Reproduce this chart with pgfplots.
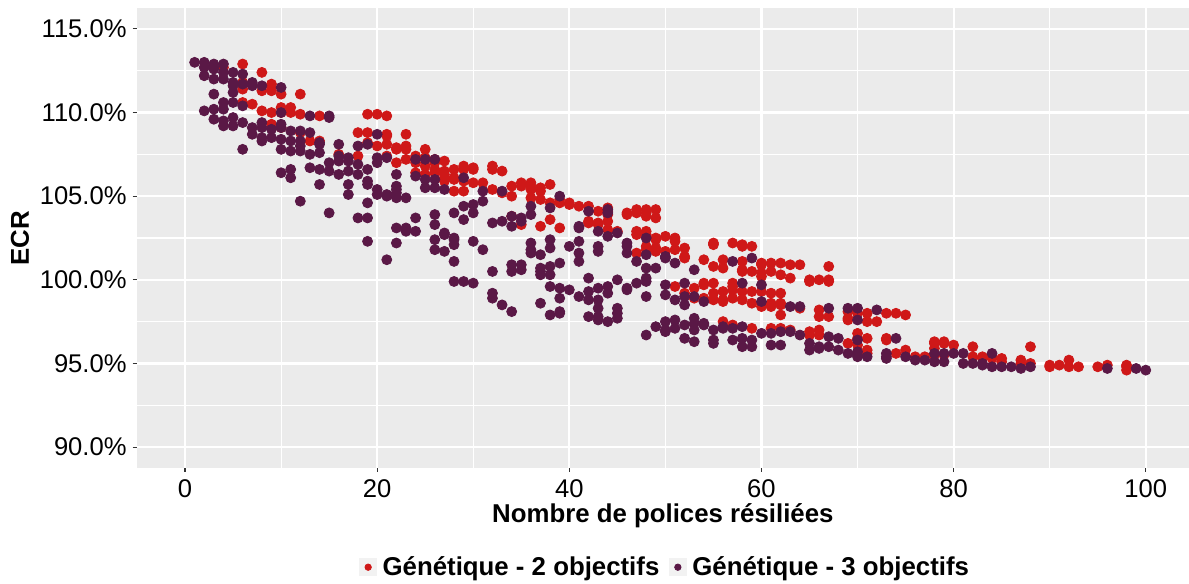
\documentclass[border=0pt]{standalone}
\usepackage{fontspec}
\setmainfont{Liberation Sans}
\usepackage{pgfplots}
\pgfplotsset{compat=1.18}
\definecolor{ggred}{RGB}{207,24,24}
\definecolor{ggpurple}{RGB}{90,24,70}
\definecolor{ggbg}{RGB}{235,235,235}
\definecolor{ggkey}{RGB}{242,242,242}
\definecolor{ggtick}{RGB}{51,51,51}
\begin{document}
\begin{tikzpicture}
\useasboundingbox (-68.35pt,-57.65pt) rectangle (526.15pt,234pt);
\begin{axis}[
  scale only axis, width=526.15pt, height=230pt,
  xmin=-5.03, xmax=104.5, ymin=88.75, ymax=116.25,
  xtick={0,20,...,100}, ytick={90,95,...,115},
  minor xtick={10,30,50,70,90}, minor ytick={92.5,97.5,102.5,107.5,112.5},
  grid=both,
  major grid style={white, line width=1.1pt},
  minor grid style={white, line width=0.55pt},
  axis background/.style={fill=ggbg},
  axis x line*=bottom, axis y line*=left,
  axis line style={draw=none},
  tick align=outside, major tick length=2pt, minor tick length=0pt,
  tick style={color=ggtick, line width=0.55pt},
  /pgf/number format/assume math mode=true,
  ticklabel style={font=\fontsize{12.8}{15}\selectfont, text=black},
  xticklabel style={anchor=base, inner sep=0pt, yshift=-12.7pt},
  yticklabel style={anchor=east, inner sep=0pt, xshift=-2.85pt},
  yticklabel={\pgfmathprintnumber[fixed,fixed zerofill,precision=1]{\tick}\%},
  xlabel={Nombre de polices résiliées},
  ylabel={ECR},
  label style={font=\bfseries\fontsize{12.9}{15}\selectfont},
  xlabel style={at={(axis description cs:0.5,0)}, anchor=base, yshift=-27.2pt},
  ylabel style={at={(axis description cs:-0.1108,0.5)}, anchor=center},
  legend columns=2,
  legend style={at={(axis description cs:0.5,0)}, anchor=center, yshift=-49.6pt, xshift=2pt,
    draw=none, fill=none, inner sep=0pt,
    font=\bfseries\fontsize{12.9}{15}\selectfont,
    nodes={inner sep=2.75pt},
    /tikz/every even column/.append style={column sep=2pt}},
  legend cell align=left,
  legend image code/.code={\fill[ggkey] (0pt,-4.3pt) rectangle (8.6pt,4.3pt);
    \draw[mark repeat=1, only marks, mark size=1.6pt] plot coordinates {(4.3pt,0pt)};},
]
\addplot[only marks, mark=*, color=ggred, mark size=2.5pt, mark options={draw=none, fill=ggred}] coordinates {
(4,112.7)
(6,112.9)(6,111.8)(6,111.4)(6,110.6)
(7,110.5)
(8,112.4)(8,111.3)(8,110.1)
(9,111.7)(9,111.5)(9,111.3)(9,110.0)(9,109.3)
(10,111.1)(10,110.3)(10,110.0)(10,109.1)
(11,110.3)(11,110.0)
(12,111.1)(12,109.9)(12,108.8)
(13,108.3)
(14,109.8)(14,108.3)
(16,107.5)
(18,108.8)(18,107.4)
(19,109.9)(19,108.8)(19,108.2)
(20,109.9)(20,108.0)
(21,109.8)(21,108.7)(21,108.6)(21,108.1)(21,107.4)
(22,107.9)(22,107.8)(22,107.0)
(23,108.7)(23,108.0)(23,107.8)(23,107.2)
(24,107.4)(24,107.0)(24,106.4)
(25,107.8)(25,107.3)(25,106.8)(25,106.3)
(26,107.2)(26,107.0)(26,106.6)(26,106.4)
(27,107.1)(27,106.5)(27,106.3)(27,106.1)(27,105.9)
(28,106.6)(28,106.1)(28,106.0)(28,105.3)
(29,106.8)(29,106.6)(29,105.9)(29,105.3)
(30,106.7)(30,106.6)(30,105.8)
(31,105.8)
(32,106.8)(32,106.6)(32,105.4)
(33,106.5)(33,105.2)
(34,105.6)(34,105.0)(34,103.8)
(35,105.8)(35,105.6)(35,103.3)
(36,105.8)(36,105.6)(36,105.4)(36,104.9)
(37,105.5)(37,105.3)(37,104.8)(37,103.2)
(38,105.7)(38,104.6)(38,103.6)
(39,104.8)(39,104.6)(39,103.1)
(40,104.6)(40,104.5)
(41,104.4)
(42,104.4)(42,103.5)(42,103.4)
(43,104.1)(43,103.4)(43,103.3)
(44,104.3)(44,104.1)(44,103.9)(44,103.5)(44,103.0)
(45,102.9)
(46,104.0)(46,103.9)
(47,104.2)(47,104.0)(47,102.9)(47,102.7)(47,101.6)
(48,104.2)(48,104.0)(48,103.8)(48,102.9)(48,102.7)(48,102.0)(48,101.8)
(49,104.2)(49,103.7)(49,102.5)(49,102.4)(49,101.9)(49,101.7)
(50,102.6)(50,101.7)
(51,102.5)(51,102.3)(51,101.8)(51,99.6)
(52,101.9)(52,101.4)(52,101.3)(52,99.2)
(53,99.5)(53,98.9)
(54,101.2)(54,99.8)(54,99.7)(54,98.9)
(55,102.2)(55,102.1)(55,100.8)(55,99.8)(55,99.2)(55,98.8)
(56,101.2)(56,100.7)(56,99.3)(56,98.8)(56,98.7)(56,97.5)
(57,102.2)(57,99.8)(57,99.6)(57,99.4)(57,98.9)(57,97.3)
(58,102.1)(58,102.0)(58,101.1)(58,100.6)(58,100.5)(58,99.3)(58,98.8)
(59,102.0)(59,100.5)(59,99.3)(59,98.6)(59,97.1)
(60,101.0)(60,100.9)(60,100.4)(60,100.2)(60,99.3)(60,98.6)(60,98.4)
(61,101.0)(61,100.5)(61,99.2)(61,98.6)(61,98.4)(61,97.1)
(62,101.0)(62,100.3)(62,99.2)(62,98.6)(62,98.5)(62,97.9)(62,97.1)
(63,100.9)(63,100.1)(63,97.0)
(64,100.9)(64,98.3)
(65,100.0)(65,99.9)(65,96.9)(65,96.7)
(66,100.0)(66,98.2)(66,97.8)(66,97.0)(66,96.7)
(67,100.8)(67,100.0)(67,99.9)(67,97.8)
(69,98.1)(69,97.7)(69,97.6)(69,96.2)
(70,98.0)(70,96.8)(70,96.5)(70,96.1)
(71,98.0)(71,97.5)(71,96.5)(71,95.8)(71,95.6)
(72,97.5)
(73,98.0)(73,96.5)(73,96.4)
(74,98.0)(74,95.6)
(75,97.9)(75,95.8)
(76,95.4)(77,95.4)
(78,96.3)(78,96.2)(78,95.9)(78,95.5)
(79,96.3)(79,96.2)(79,95.5)
(80,96.1)
(82,96.0)(82,95.4)
(83,95.4)(83,95.3)
(84,95.4)(84,95.3)
(85,95.3)(85,95.1)
(87,95.2)(87,95.0)
(88,96.0)(88,95.0)
(90,94.9)(90,94.8)
(91,94.9)
(92,95.2)(92,94.8)
(93,94.8)
(95,94.8)
(96,94.9)
(98,94.9)(98,94.8)(98,94.6)
};
\addlegendentry{Génétique - 2 objectifs}
\addplot[only marks, mark=*, color=ggpurple, mark size=2.5pt, mark options={draw=none, fill=ggpurple}] coordinates {
(1,113.0)
(2,113.0)(2,112.7)(2,112.2)(2,110.1)
(3,112.9)(3,112.7)(3,112.6)(3,112.0)(3,111.1)(3,110.2)(3,109.6)
(4,112.9)(4,112.4)(4,112.0)(4,110.6)(4,110.2)(4,109.5)(4,109.2)
(5,112.4)(5,111.8)(5,111.6)(5,111.2)(5,110.6)(5,109.7)(5,109.2)
(6,112.3)(6,111.7)(6,110.4)(6,109.4)(6,107.8)
(7,111.8)(7,111.6)(7,109.1)(7,108.7)
(8,111.6)(8,109.4)(8,109.1)(8,108.5)(8,108.3)
(9,109.0)(9,108.5)
(10,111.5)(10,110.0)(10,109.3)(10,109.1)(10,108.4)(10,107.8)(10,106.4)
(11,108.9)(11,108.3)(11,107.7)(11,106.6)(11,106.1)
(12,108.9)(12,108.3)(12,108.0)(12,107.7)(12,104.7)
(13,109.8)(13,108.8)(13,107.5)(13,106.7)
(14,108.2)(14,108.1)(14,107.6)(14,106.6)(14,105.7)
(15,109.8)(15,109.7)(15,107.0)(15,106.5)(15,104.0)
(16,108.1)(16,107.4)(16,107.1)(16,106.3)
(17,107.3)(17,107.1)(17,106.5)(17,105.7)(17,105.1)
(18,108.0)(18,106.9)(18,106.3)(18,103.7)
(19,108.1)(19,106.6)(19,105.9)(19,105.7)(19,104.6)(19,103.7)(19,102.3)
(20,108.7)(20,107.3)(20,107.0)(20,105.4)(20,105.1)
(21,107.3)(21,105.1)(21,105.0)(21,101.2)
(22,106.3)(22,105.6)(22,105.4)(22,105.2)(22,104.9)(22,103.1)(22,102.2)
(23,104.9)(23,103.1)(23,102.9)
(24,107.2)(24,106.2)(24,103.7)(24,102.9)
(25,107.2)(25,106.0)(25,105.5)
(26,107.2)(26,106.0)(26,105.5)(26,103.9)(26,103.3)(26,102.4)(26,101.8)
(27,105.4)(27,102.8)(27,102.7)(27,101.7)
(28,104.0)(28,102.5)(28,102.4)(28,102.1)(28,101.1)(28,99.9)
(29,106.1)(29,104.4)(29,103.6)(29,99.9)
(30,104.5)(30,104.0)(30,102.3)(30,99.8)
(31,105.3)(31,104.7)(31,101.8)
(32,103.4)(32,100.5)(32,99.2)(32,98.9)
(33,105.3)(33,103.5)(33,98.5)
(34,103.8)(34,103.2)(34,100.9)(34,100.5)(34,98.1)
(35,103.7)(35,103.5)(35,100.9)(35,100.6)
(36,104.4)(36,103.9)(36,102.2)(36,101.8)(36,101.6)
(37,101.5)(37,100.7)(37,100.5)(37,100.3)(37,98.6)
(38,104.3)(38,102.4)(38,101.9)(38,100.8)(38,100.3)(38,99.6)(38,97.9)
(39,105.0)(39,101.0)(39,99.5)(39,98.9)(39,98.1)(39,98.0)
(40,102.0)(40,99.4)
(41,103.2)(41,103.1)(41,102.3)(41,101.6)(41,101.1)(41,99.0)
(42,104.1)(42,100.1)(42,99.3)(42,98.8)(42,97.8)
(43,102.9)(43,102.0)(43,101.7)(43,99.5)(43,98.8)(43,98.3)(43,97.8)(43,97.6)
(44,104.2)(44,104.0)(44,102.6)(44,99.6)(44,99.2)(44,97.5)
(45,102.8)(45,100.0)(45,98.3)(45,98.0)(45,97.7)
(46,102.2)(46,102.0)(46,101.6)(46,99.5)(46,99.4)
(47,101.1)(47,99.8)
(48,102.5)(48,101.5)(48,100.7)(48,100.1)(48,99.9)(48,99.0)(48,96.7)
(49,100.7)(49,97.2)
(50,101.4)(50,101.3)(50,99.7)(50,99.1)(50,97.5)(50,97.0)(50,96.9)
(51,101.0)(51,98.8)(51,97.6)(51,97.1)
(52,99.8)(52,99.0)(52,98.5)(52,97.3)(52,96.5)
(53,100.6)(53,99.0)(53,97.7)(53,97.4)(53,97.0)(53,96.3)
(54,98.7)(54,97.4)(54,97.3)
(55,97.0)(55,96.4)(55,96.2)
(56,97.2)(56,97.1)
(57,101.1)(57,97.1)(57,96.4)
(58,99.8)(58,97.2)(58,96.5)(58,96.0)
(59,101.3)(59,96.4)(59,96.0)
(60,99.7)(60,98.7)(60,96.8)
(61,96.8)(61,96.1)
(62,96.9)(62,96.1)
(63,98.4)(63,96.9)
(64,98.4)(64,96.7)
(65,96.2)(65,95.8)
(66,96.0)(66,95.9)
(67,98.3)(67,96.6)(67,96.0)
(68,96.5)(68,95.8)
(69,98.3)(69,95.6)
(70,98.3)(70,97.6)(70,96.4)(70,95.7)(70,95.5)(70,95.4)
(71,95.4)
(72,98.2)
(73,95.6)(73,95.4)(73,95.3)
(74,96.5)
(75,95.4)
(76,95.2)(77,95.2)
(78,95.6)(78,95.1)
(79,95.6)(79,95.1)
(80,95.6)
(81,95.6)(81,95.0)
(82,95.0)
(83,95.0)(83,94.9)
(84,95.6)(84,94.8)
(85,94.8)(86,94.8)(87,94.7)(88,94.8)
(96,94.7)(99,94.7)(100,94.6)
};
\addlegendentry{Génétique - 3 objectifs}
\end{axis}
\end{tikzpicture}
\end{document}
